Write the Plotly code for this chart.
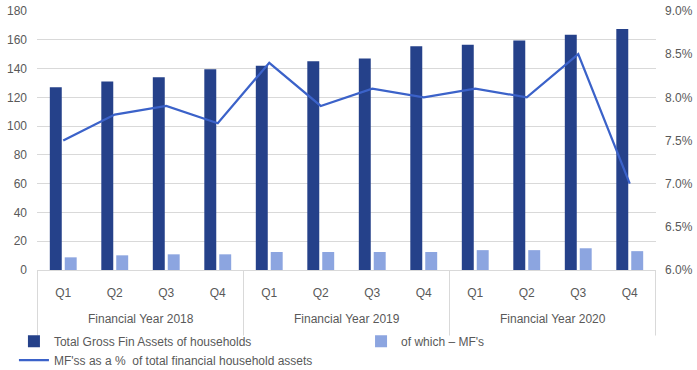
import plotly.graph_objects as go

years = ["Financial Year 2018"] * 4 + ["Financial Year 2019"] * 4 + ["Financial Year 2020"] * 4
quarters = ["Q1", "Q2", "Q3", "Q4"] * 3
total_assets = [127, 131, 134, 139.5, 142, 145, 147, 155.5, 156.5, 159.5, 163.5, 167.5]
mf_assets = [8.8, 10.2, 10.9, 10.9, 12.5, 12.5, 12.5, 12.5, 13.8, 13.8, 15.1, 13.1]
mf_share = [0.075, 0.078, 0.079, 0.077, 0.084, 0.079, 0.081, 0.080, 0.081, 0.080, 0.085, 0.070]

names = ["Total Gross Fin Assets of households", "of which – MF's",
         "MF'ss as a %  of total financial household assets"]

DARK = "#25418A"
LIGHT = "#8CA5E0"
LINE = "#3B62C9"
TXT = "#595959"
GRID = "#D9D9D9"
FONT = "Liberation Sans"

# unique category keys built from the two label lists
cats = [f"{y}|{q}" for y, q in zip(years, quarters)]

fig = go.Figure()
fig.add_trace(go.Bar(x=cats, y=total_assets, name=names[0], legend="legend",
                     marker=dict(color=DARK, line=dict(width=0))))
fig.add_trace(go.Bar(x=cats, y=mf_assets, name=names[1], legend="legend2",
                     marker=dict(color=LIGHT, line=dict(width=0))))
fig.add_trace(go.Scatter(x=cats, y=mf_share, name=names[2], mode="lines", legend="legend",
                         line=dict(color=LINE, width=2.25), yaxis="y2"))

# group labels and dividers for the second category level
groups = []
for i, y in enumerate(years):
    if not groups or groups[-1][0] != y:
        groups.append([y, i, i])
    else:
        groups[-1][2] = i

shapes = []
annotations = []
for g, start, end in groups:
    annotations.append(dict(x=(start + end) / 2, y=-0.19, xref="x", yref="paper", text=g,
                            showarrow=False, yanchor="middle",
                            font=dict(family=FONT, size=12, color=TXT)))
    shapes.append(dict(type="line", xref="x", yref="paper", x0=start - 0.5, x1=start - 0.5,
                       y0=0, y1=-0.253, line=dict(color=GRID, width=1)))
shapes.append(dict(type="line", xref="x", yref="paper", x0=groups[-1][2] + 0.5,
                   x1=groups[-1][2] + 0.5, y0=0, y1=-0.253, line=dict(color=GRID, width=1)))

fig.update_layout(
    width=697, height=370,
    margin=dict(l=37, r=41, t=11, b=100, autoexpand=False),
    paper_bgcolor="white", plot_bgcolor="white",
    font=dict(family=FONT, size=12, color=TXT),
    barmode="group", bargap=0.42, bargroupgap=0.2,
    showlegend=True,
    legend=dict(orientation="v", xref="container", yref="container", x=0.02, xanchor="left",
                y=0.117, yanchor="top", tracegroupgap=0,
                font=dict(family=FONT, size=12, color=TXT), bgcolor="rgba(0,0,0,0)"),
    legend2=dict(orientation="v", xref="container", yref="container", x=0.518, xanchor="left",
                 y=0.117, yanchor="top",
                 font=dict(family=FONT, size=12, color=TXT), bgcolor="rgba(0,0,0,0)"),
    xaxis=dict(type="category", showgrid=False, showline=True, linecolor=GRID, linewidth=1,
               tickmode="array", tickvals=cats, ticktext=quarters, ticklabelstandoff=12,
               tickfont=dict(family=FONT, size=12, color=TXT), ticks=""),
    yaxis=dict(range=[0, 180], dtick=20, showgrid=True, gridcolor=GRID, gridwidth=1,
               zeroline=False, showline=False, tickfont=dict(family=FONT, size=12, color=TXT),
               ticks="", ticklabelstandoff=9),
    yaxis2=dict(range=[0.06, 0.09], dtick=0.005, tickformat=".1%", overlaying="y", side="right",
                showgrid=False, zeroline=False, showline=False,
                tickfont=dict(family=FONT, size=12, color=TXT), ticks="", ticklabelstandoff=8),
    shapes=shapes, annotations=annotations,
)

fig.write_html("out.html")
